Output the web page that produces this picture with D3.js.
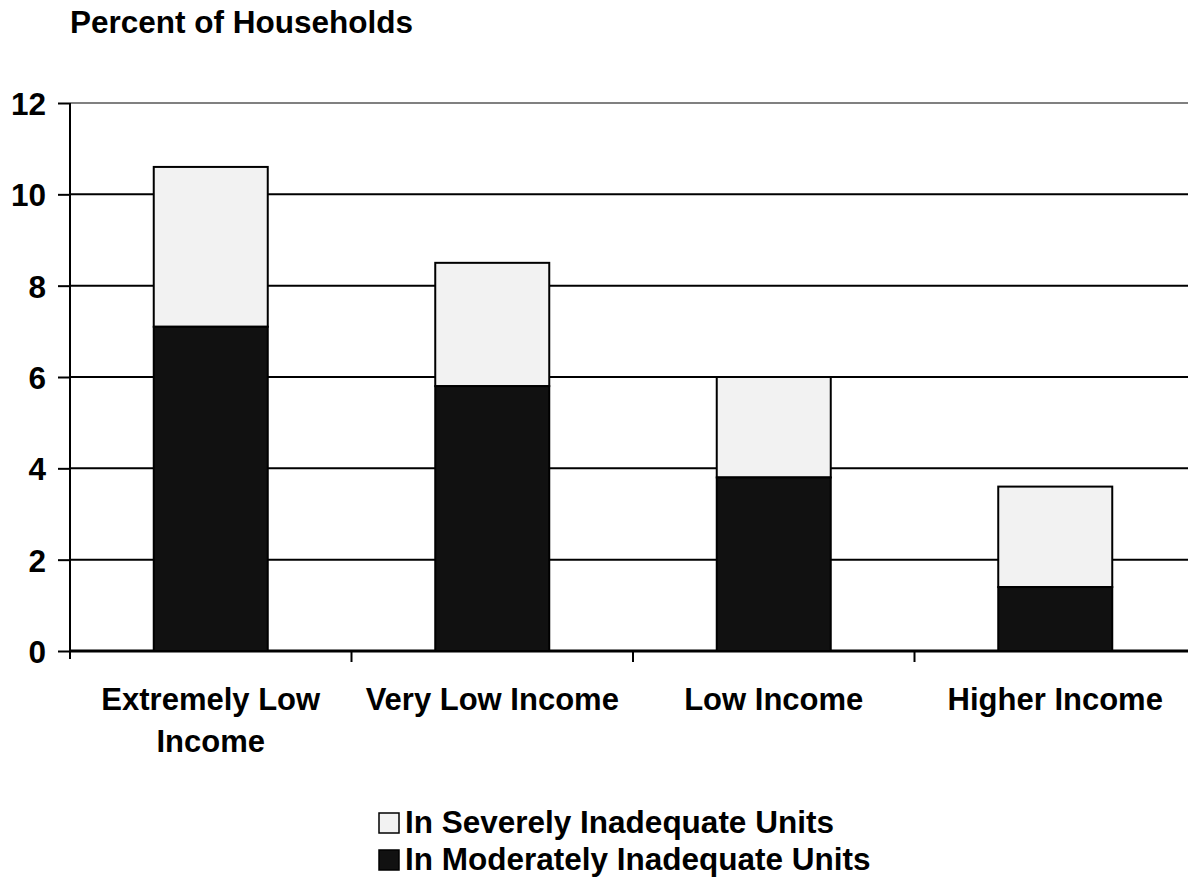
<!DOCTYPE html>
<html>
<head>
<meta charset="utf-8">
<script src="https://cdn.jsdelivr.net/npm/d3@7"></script>
<style>
  body { margin: 0; background: #fff; }
  svg text { font-family: "Liberation Sans", Arial, sans-serif; font-weight: bold; fill: #000; }
</style>
</head>
<body>
<div id="chart"></div>
<script>
const categories = [["Extremely Low", "Income"], ["Very Low Income"], ["Low Income"], ["Higher Income"]];
const moderate = [7.1, 5.8, 3.8, 1.4];
const totals = [10.6, 8.5, 6.0, 3.6];
const yTicks = [0, 2, 4, 6, 8, 10, 12];
const seriesNames = ["In Severely Inadequate Units", "In Moderately Inadequate Units"];

const width = 1188, height = 884;
const plotLeft = 70, plotRight = 1196, plotTop = 103, plotBottom = 651;
const fontSize = "31.5px";

const svg = d3.select("#chart").append("svg")
    .attr("width", width)
    .attr("height", height);

const x = d3.scaleBand()
    .domain(d3.range(categories.length))
    .range([plotLeft, plotRight])
    .paddingInner(0.595)
    .paddingOuter(0.2975);

const y = d3.scaleLinear().domain([0, 12]).range([plotBottom, plotTop]);

// gridlines
svg.selectAll(".grid")
    .data(yTicks.filter(d => d > 0))
    .enter().append("line")
    .attr("x1", plotLeft).attr("x2", width)
    .attr("y1", d => y(d)).attr("y2", d => y(d))
    .attr("stroke", d => d === 12 ? "#808080" : "#000")
    .attr("stroke-width", 2);

// y axis
const yAxis = svg.append("g")
    .attr("transform", `translate(${plotLeft},0)`)
    .call(d3.axisLeft(y).tickValues(yTicks).tickSize(12).tickPadding(12));
yAxis.select(".domain").attr("stroke", "#000").attr("stroke-width", 2)
    .attr("d", `M0,${y(12)}V${plotBottom + 8}`);
yAxis.selectAll(".tick line").attr("stroke", "#000").attr("stroke-width", 2);
yAxis.selectAll(".tick text").style("font-size", fontSize).attr("dy", "0.36em");

// x axis baseline and category ticks
svg.append("line")
    .attr("x1", plotLeft).attr("x2", width)
    .attr("y1", plotBottom).attr("y2", plotBottom)
    .attr("stroke", "#000").attr("stroke-width", 3);
svg.selectAll(".xtick")
    .data(d3.range(1, categories.length))
    .enter().append("line")
    .attr("x1", d => x(d) - x.step() * x.paddingInner() / 2)
    .attr("x2", d => x(d) - x.step() * x.paddingInner() / 2)
    .attr("y1", plotBottom).attr("y2", plotBottom + 11)
    .attr("stroke", "#000").attr("stroke-width", 2);

// bars
const bars = svg.selectAll(".bar")
    .data(d3.range(categories.length))
    .enter().append("g");
bars.append("rect")
    .attr("x", i => x(i))
    .attr("width", x.bandwidth())
    .attr("y", i => y(totals[i]))
    .attr("height", i => y(moderate[i]) - y(totals[i]))
    .attr("fill", "#f2f2f2")
    .attr("stroke", "#000").attr("stroke-width", 2);
bars.append("rect")
    .attr("x", i => x(i))
    .attr("width", x.bandwidth())
    .attr("y", i => y(moderate[i]))
    .attr("height", i => y(0) - y(moderate[i]))
    .attr("fill", "#111")
    .attr("stroke", "#000").attr("stroke-width", 2);

// category labels
const labels = svg.selectAll(".xlabel")
    .data(categories)
    .enter().append("text")
    .attr("text-anchor", "middle")
    .style("font-size", "31px")
    .attr("transform", (d, i) => `translate(${x(i) + x.bandwidth() / 2},710)`);
labels.selectAll("tspan")
    .data(d => d)
    .enter().append("tspan")
    .attr("x", 0)
    .attr("y", (d, j) => j * 42)
    .text(d => d);

// title
svg.append("text")
    .attr("x", 70).attr("y", 33)
    .style("font-size", fontSize)
    .text("Percent of Households");

// legend
const legend = svg.selectAll(".legend")
    .data(seriesNames)
    .enter().append("g")
    .attr("transform", (d, i) => `translate(379,${813 + i * 37})`);
legend.append("rect")
    .attr("width", 20).attr("height", 20)
    .attr("fill", (d, i) => i === 0 ? "#f2f2f2" : "#111")
    .attr("stroke", "#000").attr("stroke-width", 1.5);
legend.append("text")
    .attr("x", 26).attr("y", 20)
    .style("font-size", fontSize)
    .text(d => d);
</script>
</body>
</html>
